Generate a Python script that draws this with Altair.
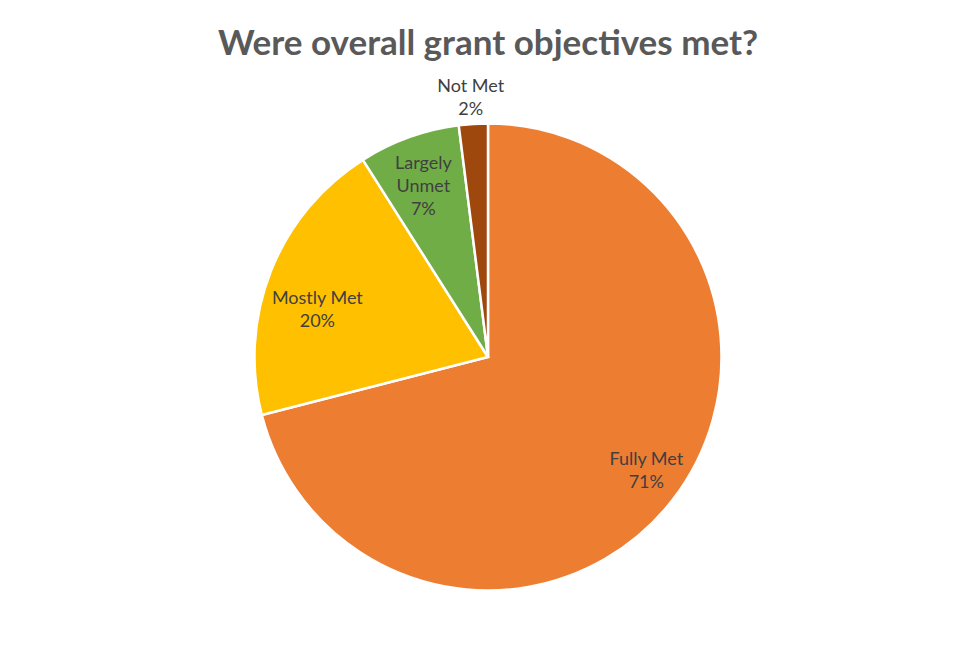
import altair as alt
import pandas as pd

categories = ["Fully Met", "Mostly Met", "Largely Unmet", "Not Met"]
values = [71, 20, 7, 2]
label_lines = ["Fully Met", "Mostly Met", "Largely\nUnmet", "Not Met"]
colors = ["#ED7D31", "#FFC000", "#70AD47", "#9E480E"]

df = pd.DataFrame({
    "category": categories,
    "value": values,
    "order": list(range(len(categories))),
})
df["label"] = [f"{l}\n{v}%" for l, v in zip(label_lines, values)]

TOTAL = sum(values)
CX, CY = 480, 287
R = 233.5

pie = alt.Chart(df).mark_arc(stroke="white", strokeWidth=2.5, radius=R).encode(
    theta=alt.Theta("value:Q", stack=True, scale=alt.Scale(domain=[0, TOTAL])),
    order=alt.Order("order:Q"),
    color=alt.Color("category:N", scale=alt.Scale(domain=categories, range=colors), legend=None),
    x=alt.value(CX), y=alt.value(CY),
)

# label placement: (radius, dx, dy)
label_pos = {
    "Fully Met": (194, 5, -16),
    "Mostly Met": (176, -7, 7),
    "Largely Unmet": (182, -3, -22),
    "Not Met": (259, -1, -12),
}

layers = [pie]
for cat, (r, ddx, ddy) in label_pos.items():
    layers.append(
        alt.Chart(df)
        .transform_window(cum="sum(value)", sort=[alt.SortField("order")], frame=[None, 0])
        .transform_calculate(mid="datum.cum - datum.value / 2")
        .transform_filter(alt.datum.category == cat)
        .mark_text(radius=r, dx=ddx, dy=ddy, fontSize=18, font="Lato", color="#404040",
                   lineBreak="\n", lineHeight=23, align="center", baseline="middle")
        .encode(
            theta=alt.Theta("mid:Q", stack=None, scale=alt.Scale(domain=[0, TOTAL])),
            text="label:N", x=alt.value(CX), y=alt.value(CY),
        )
    )

chart = alt.layer(*layers).resolve_scale(theta="independent").properties(
    width=960, height=580,
    padding={"left": 0, "top": 19, "right": 0, "bottom": 0},
    title=alt.TitleParams("Were overall grant objectives met?", fontSize=35, font="Lato",
                          fontWeight="bold", color="#595959", anchor="middle", offset=8),
).configure_view(stroke=None)

chart.save("out.html", embed_options={"renderer": "svg", "actions": False})
